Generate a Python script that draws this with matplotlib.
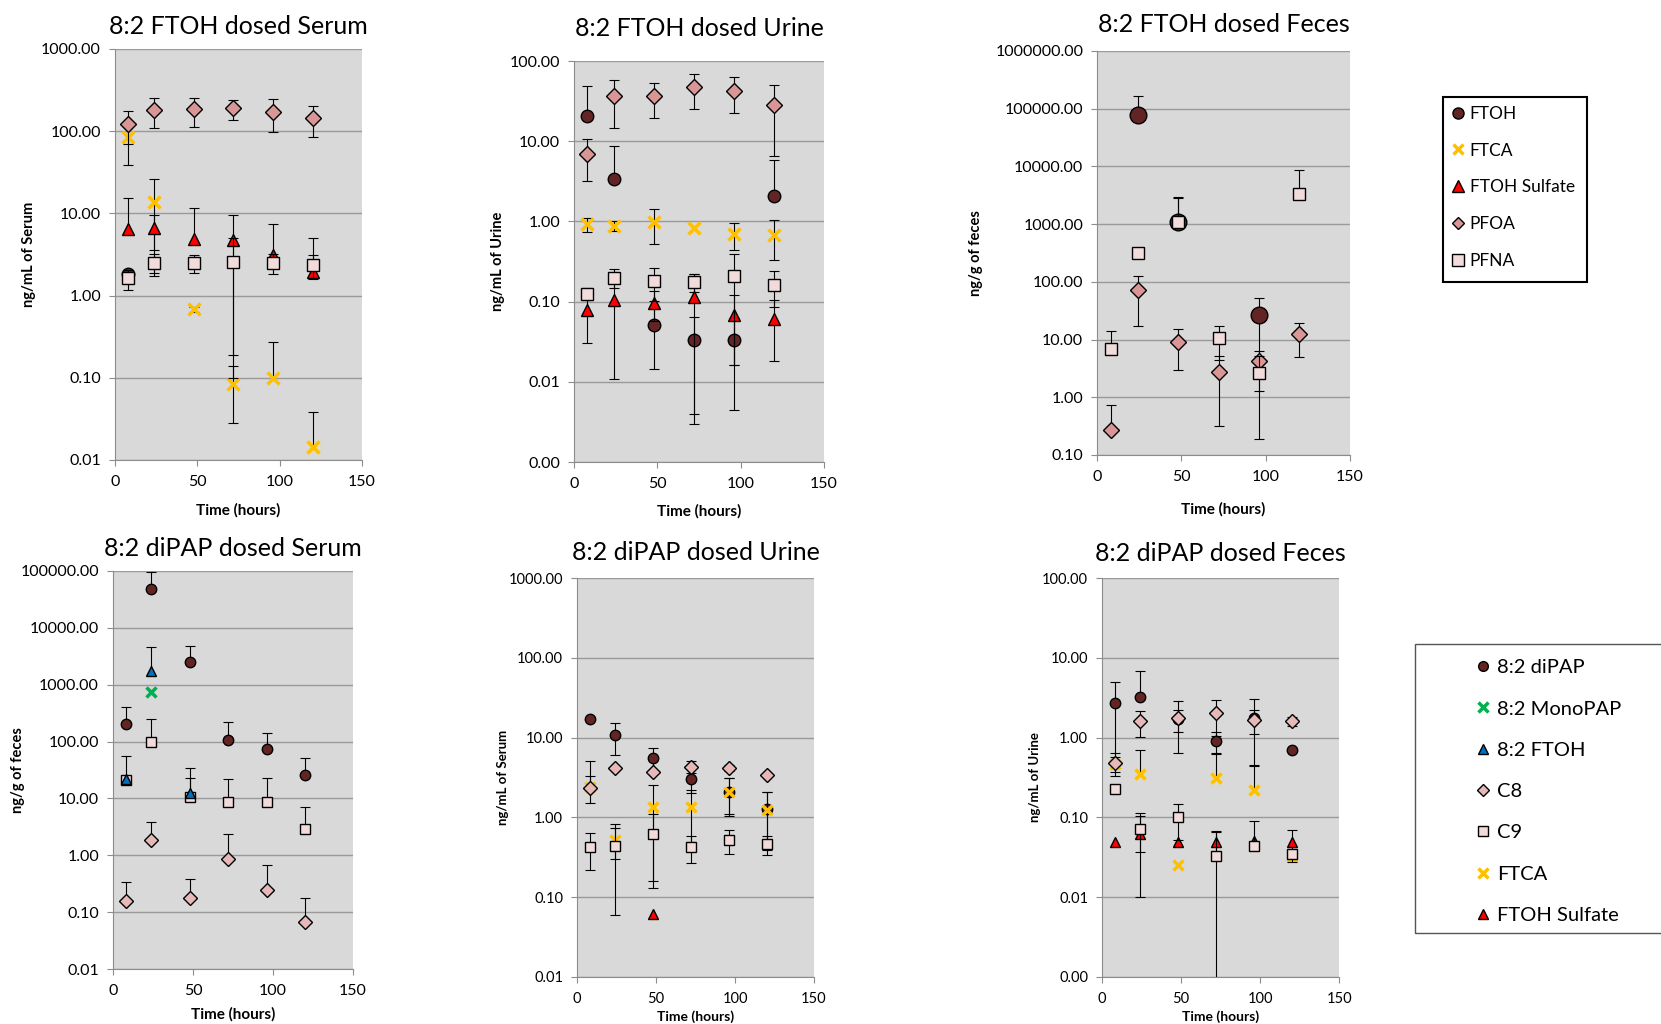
import numpy as np
import matplotlib
matplotlib.use('Agg')
import matplotlib.pyplot as plt
from matplotlib.lines import Line2D
from matplotlib.patches import Rectangle
from matplotlib.ticker import NullLocator

plt.rcParams['font.family'] = ['Lato', 'DejaVu Sans']

nan = np.nan
hours = [8, 24, 48, 72, 96, 120]
zero6 = [0] * 6

# 8:2 FTOH dosed - serum (ng/mL), mean and SD
fs_ftoh = [1.85, nan, nan, nan, nan, nan]
fs_ftoh_sd = zero6
fs_ftca = [85, 13.9, 0.68, 0.084, 0.10, 0.0143]
fs_ftca_sd = [46, 12, 0.05, 0.056, 0.175, 0.024]
fs_sulf = [6.5, 6.6, 4.84, 4.8, 3.1, 1.95]
fs_sulf_sd = [8.7, 3.0, 6.7, 4.7, 4.3, 3.0]
fs_pfoa = [122, 180, 184, 189, 172, 145]
fs_pfoa_sd = [53, 72, 72, 52, 75, 60]
fs_pfna = [1.62, 2.47, 2.5, 2.59, 2.5, 2.35]
fs_pfna_sd = [0.45, 0.72, 0.63, 2.4, 0.67, 0.75]

# 8:2 FTOH dosed - urine
fu_ftoh = [20.4, 3.41, 0.0506, 0.0335, 0.0335, 2.07]
fu_ftoh_sd = [28, 5.4, 0.036, 0.0305, 0.029, 3.7]
fu_ftca = [0.918, 0.886, 0.98, 0.82, 0.70, 0.684]
fu_ftca_sd = [0.17, 0.13, 0.46, 0, 0.26, 0.35]
fu_sulf = [0.0778, 0.106, 0.097, 0.114, 0.0687, 0.0612]
fu_sulf_sd = [0.047, 0.095, 0.04, 0.11, 0.0525, 0.043]
fu_pfoa = [6.85, 36.6, 36.6, 47.4, 42.7, 28.5]
fu_pfoa_sd = [3.7, 22, 17, 22, 20, 22]
fu_pfna = [0.126, 0.199, 0.181, 0.175, 0.206, 0.163]
fu_pfna_sd = [0.02, 0.053, 0.08, 0.045, 0.19, 0.077]

# 8:2 FTOH dosed - feces
ff_ftoh = [nan, 79000, 1097, nan, 26.5, nan]
ff_ftoh_sd = [0, 87000, 1800, 0, 25.2, 0]
ff_pfoa = [0.271, 72, 9.16, 2.77, 4.25, 12.3]
ff_pfoa_sd = [0.46, 55, 6.2, 2.45, 2.0, 7.4]
ff_pfna = [6.76, 310, 1080, 10.8, 2.67, 3390]
ff_pfna_sd = [7.5, 0, 1700, 6.4, 2.48, 5400]

# 8:2 diPAP dosed - serum (plus error bars only)
ds_dipap = [206, 48300, 2490, 106, 72.8, 25.4]
ds_dipap_sd = [203, 47700, 2330, 111, 70, 25]
ds_mono = [nan, 730, nan, nan, nan, nan]
ds_ftoh = [21.9, 1750, 12.6, nan, nan, nan]
ds_ftoh_sd = [34, 2870, 22, 0, 0, 0]
ds_c8 = [0.158, 1.86, 0.18, 0.863, 0.243, 0.0675]
ds_c8_sd = [0.186, 2.04, 0.21, 1.48, 0.42, 0.113]
ds_c9 = [21, 99, 10.4, 8.65, 8.65, 2.94]
ds_c9_sd = [0, 149, 12.7, 13, 14.5, 4.0]

# 8:2 diPAP dosed - urine
du_dipap = [17.3, 10.7, 5.5, 3.03, 2.1, 1.26]
du_dipap_sd = [0, 4.6, 1.9, 1.0, 1.0, 0.85]
du_c8 = [2.36, 4.12, 3.74, 4.33, 4.2, 3.4]
du_c8_sd = [2.7, 0, 0, 0.7, 0.4, 0]
du_c9 = [0.43, 0.44, 0.62, 0.43, 0.52, 0.458]
du_c9_sd = [0.21, 0.38, 0.49, 0.16, 0.17, 0.12]
du_ftca = [2.4, 0.52, 1.36, 1.34, 2.1, 1.24]
du_ftca_sd = [0.9, 0.22, 1.2, 0.85, 1.05, 0.85]
du_sulf = [nan, nan, 0.062, nan, nan, nan]

# 8:2 diPAP dosed - feces
df_dipap = [2.73, 3.24, 1.69, 0.906, 1.75, 0.698]
df_dipap_sd = [2.27, 3.6, 0.5, 0.28, 1.3, 0]
df_c8 = [0.485, 1.6, 1.75, 2.01, 1.66, 1.6]
df_c8_sd = [0.15, 0.57, 1.1, 0.95, 0.55, 0.22]
df_c9 = [0.227, 0.071, 0.1, 0.033, 0.0444, 0.0346]
df_c9_sd = [0, 0.034, 0.048, 0.0329, 0.045, 0]
df_ftca = [0.467, 0.347, 0.0254, 0.315, 0.22, 0.032]
df_ftca_sd = [0.1, 0.35, 0, 0.32, 0.22, 0]
df_sulf = [0.0497, 0.062, 0.0489, 0.049, 0.05, 0.049]
df_sulf_sd = [0, 0.052, 0, 0.018, 0, 0.021]

BROWN = '#632523'
GOLD = '#FFC000'
RED = '#FF0000'
ROSE = '#D99694'
PINK = '#E6B9B8'
PALE = '#F2DCDB'
GREEN = '#00B050'
BLUE = '#0070C0'


def circle(c=BROWN, ms=9):
    return dict(marker='o', ms=ms, mfc=c, mec='black', mew=1)

def cross(c=GOLD, ms=9):
    return dict(marker='x', ms=ms, color=c, mew=2.5)

def tri(c=RED, ms=9):
    return dict(marker='^', ms=ms, mfc=c, mec='black', mew=1)

def diamond(c=ROSE, ms=8):
    return dict(marker='D', ms=ms, mfc=c, mec='black', mew=1)

def square(c=PALE, ms=9):
    return dict(marker='s', ms=ms, mfc=c, mec='black', mew=1)


def setup(ax, lo_exp, hi_exp, title, ylabel, tpad, ypad, xpad, small=False):
    fs = 10.5 if small else 11.5
    ax.set_facecolor('#D9D9D9')
    ax.set_yscale('log')
    ax.set_ylim(10.0 ** lo_exp, 10.0 ** hi_exp)
    ax.set_xlim(0, 150)
    ax.set_xticks([0, 50, 100, 150])
    ticks = 10.0 ** np.arange(lo_exp, hi_exp + 1)
    ax.set_yticks(ticks)
    ax.set_yticklabels([f'{t:.2f}' for t in ticks])
    ax.yaxis.set_minor_locator(NullLocator())
    ax.grid(axis='y', color='#9A9A9A', lw=1)
    ax.set_axisbelow(True)
    for s in ['top', 'right']:
        ax.spines[s].set_visible(False)
    for s in ['left', 'bottom']:
        ax.spines[s].set_color('#8C8C8C')
    ax.tick_params(colors='#8C8C8C', labelcolor='black', labelsize=fs, length=4)
    ax.tick_params(axis='y', pad=6)
    ax.tick_params(axis='x', pad=7)
    ax.set_title(title, fontsize=18, pad=tpad)
    ax.set_xlabel('Time (hours)', fontweight='bold', fontsize=fs - 0.5, labelpad=xpad)
    ax.set_ylabel(ylabel, fontweight='bold', fontsize=fs - 1, labelpad=ypad)


def draw(ax, series, plus_only=False):
    x = np.array(hours, float)
    for i, (vals, sd, style) in enumerate(series):
        v = np.array(vals, float)
        e = np.array(sd, float)
        z = 3 + i
        up = (e > 0) & ~np.isnan(v)
        ax.vlines(x[up], v[up], v[up] + e[up], color='black', lw=0.8, zorder=z)
        ax.plot(x[up], v[up] + e[up], ls='none', marker='_', ms=7, mew=0.8, color='black', zorder=z)
        if not plus_only:
            dn = up & (v - e > 0)
            ax.vlines(x[dn], v[dn] - e[dn], v[dn], color='black', lw=0.8, zorder=z)
            ax.plot(x[dn], v[dn] - e[dn], ls='none', marker='_', ms=7, mew=0.8, color='black', zorder=z)
        ax.plot(x, v, ls='none', zorder=z + 0.5, **style)


fig = plt.figure(figsize=(16.61, 10.24), dpi=100)

ax1 = fig.add_axes([0.0692, 0.5508, 0.1487, 0.4014])
setup(ax1, -2, 3, '8:2 FTOH dosed Serum', 'ng/mL of Serum', 11, 4, 10)
draw(ax1, [(fs_ftoh, fs_ftoh_sd, circle()), (fs_ftca, fs_ftca_sd, cross()),
           (fs_sulf, fs_sulf_sd, tri()), (fs_pfoa, fs_pfoa_sd, diamond()),
           (fs_pfna, fs_pfna_sd, square())])

ax2 = fig.add_axes([0.3456, 0.5488, 0.1505, 0.3916])
setup(ax2, -3, 2, '8:2 FTOH dosed Urine', 'ng/mL of Urine', 18, 3, 9)
draw(ax2, [(fu_ftoh, fu_ftoh_sd, circle()), (fu_ftca, fu_ftca_sd, cross()),
           (fu_sulf, fu_sulf_sd, tri()), (fu_pfoa, fu_pfoa_sd, diamond()),
           (fu_pfna, fu_pfna_sd, square())])

ax3 = fig.add_axes([0.6605, 0.5557, 0.1523, 0.3945])
setup(ax3, -1, 6, '8:2 FTOH dosed Feces', 'ng/g of feces', 14, 9, 13)
draw(ax3, [(ff_ftoh, ff_ftoh_sd, circle(ms=12)), (ff_pfoa, ff_pfoa_sd, diamond()),
           (ff_pfna, ff_pfna_sd, square())])

ax4 = fig.add_axes([0.0680, 0.0537, 0.1445, 0.3887])
setup(ax4, -2, 5, '8:2 diPAP dosed Serum', 'ng/g of feces', 11, -3, 6)
draw(ax4, [(ds_dipap, ds_dipap_sd, circle(ms=7.5)), (ds_mono, zero6, cross(GREEN, 7)),
           (ds_c8, ds_c8_sd, diamond(PINK, 7)), (ds_c9, ds_c9_sd, square(ms=7.5)),
           (ds_ftoh, ds_ftoh_sd, tri(BLUE, 7.5))], plus_only=True)

ax5 = fig.add_axes([0.3474, 0.0459, 0.1427, 0.3896])
setup(ax5, -2, 3, '8:2 diPAP dosed Urine', 'ng/mL of Serum', 13, 0, 3, small=True)
draw(ax5, [(du_dipap, du_dipap_sd, circle(ms=7.5)), (du_ftca, du_ftca_sd, cross(ms=7.5)),
           (du_sulf, zero6, tri(ms=7.5)), (du_c8, du_c8_sd, diamond(PINK, 7)),
           (du_c9, du_c9_sd, square(ms=7.5))])

ax6 = fig.add_axes([0.6635, 0.0459, 0.1427, 0.3896])
setup(ax6, -3, 2, '8:2 diPAP dosed Feces', 'ng/mL of Urine', 12, 1, 3, small=True)
draw(ax6, [(df_dipap, df_dipap_sd, circle(ms=7.5)), (df_ftca, df_ftca_sd, cross(ms=7.5)),
           (df_sulf, df_sulf_sd, tri(ms=7.5)), (df_c8, df_c8_sd, diamond(PINK, 7)),
           (df_c9, df_c9_sd, square(ms=7.5))])

# legends
def handle(style):
    return Line2D([], [], ls='none', **style)

fig.add_artist(Rectangle((0.8688, 0.7246), 0.0867, 0.1807, transform=fig.transFigure,
                         fill=False, ec='black', lw=1.5))
fig.legend([handle(circle(ms=8)), handle(cross(ms=7)), handle(tri(ms=8)),
            handle(diamond(ms=6.5)), handle(square(ms=8))],
           ['FTOH', 'FTCA', 'FTOH Sulfate', 'PFOA', 'PFNA'],
           loc='upper left', bbox_to_anchor=(0.864, 0.912), frameon=False,
           fontsize=12.5, handlelength=0.8, handletextpad=0.3, labelspacing=1.2)

fig.add_artist(Rectangle((0.8519, 0.0889), 0.16, 0.2822, transform=fig.transFigure,
                         fill=False, ec='#555555', lw=1))
fig.legend([handle(circle(ms=7)), handle(cross(GREEN, 7)), handle(tri(BLUE, 7)),
            handle(diamond(PINK, 6)), handle(square(ms=7)), handle(cross(ms=7)),
            handle(tri(ms=7))],
           ['8:2 diPAP', '8:2 MonoPAP', '8:2 FTOH', 'C8', 'C9', 'FTCA', 'FTOH Sulfate'],
           loc='upper left', bbox_to_anchor=(0.877, 0.374), frameon=False,
           fontsize=14.5, handlelength=0.8, handletextpad=0.3, labelspacing=1.2)

fig.savefig('out.png', dpi=100)
